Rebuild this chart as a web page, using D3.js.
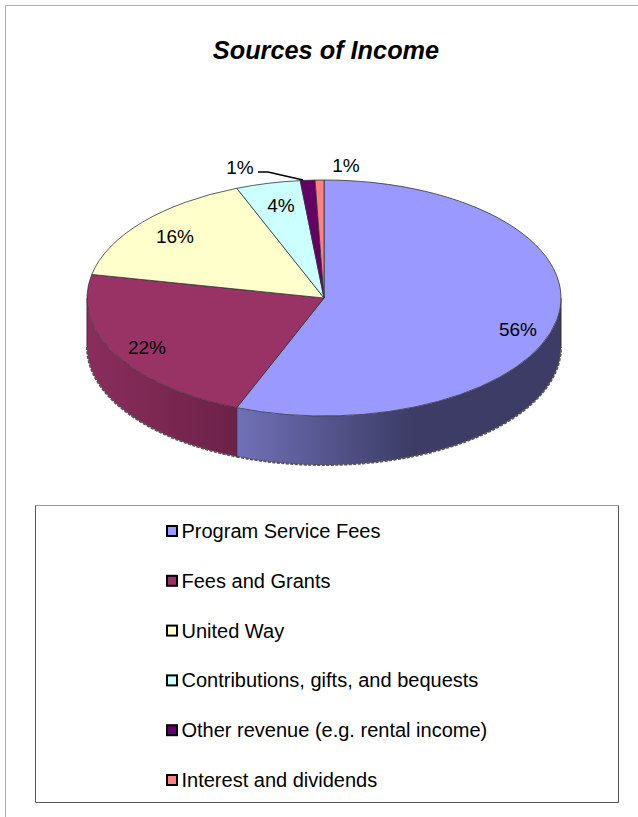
<!DOCTYPE html>
<html>
<head>
<meta charset="utf-8">
<script src="https://cdn.jsdelivr.net/npm/d3@7"></script>
<style>
html,body{margin:0;padding:0;background:#fff;}
svg{display:block;}
text{font-family:"Liberation Sans",Arial,sans-serif;fill:#000;}
</style>
</head>
<body>
<div id="chart"></div>
<script>
var categories = ["Program Service Fees","Fees and Grants","United Way","Contributions, gifts, and bequests","Other revenue (e.g. rental income)","Interest and dividends"];
var values = [56.0,22.2,15.8,4.4,1.0,0.6];
var colors = ["#9999ff","#993366","#ffffcc","#ccffff","#660066","#ff8080"];
var sideStart = ["#7070b8","#8a2d5c"];
var sideEnd = ["#3c3c66","#6c2248"];

var width = 638, height = 817;
var cx = 324, cy = 298, rx = 237, ry = 118, depth = 49;

var svg = d3.select("#chart").append("svg")
    .attr("width",width)
    .attr("height",height);
var defs = svg.append("defs");

// outer frame, only top and left show
svg.append("line").attr("x1",5).attr("y1",5.5).attr("x2",width).attr("y2",5.5).attr("stroke","#aaa");
svg.append("line").attr("x1",5.5).attr("y1",5).attr("x2",5.5).attr("y2",height).attr("stroke","#aaa");

svg.append("text")
    .attr("x",326)
    .attr("y",59)
    .attr("text-anchor","middle")
    .attr("font-size",25.3)
    .attr("font-weight","bold")
    .attr("font-style","italic")
    .text("Sources of Income");

var pie = d3.pie().sort(null).value(function(d){ return d; });
var arcs = pie(values);

// the ellipse is a plain d3.arc squashed in y
var arc = d3.arc().innerRadius(0).outerRadius(rx);
function px(a){ return cx + rx*Math.sin(a); }
function py(a){ return cy - ry*Math.cos(a); }

// side wall, only the part of each slice facing front
var wall = svg.append("g").attr("class","wall");
var lineFn = d3.line().x(function(d){ return d[0]; }).y(function(d){ return d[1]; });
arcs.forEach(function(d,i){
    var a0 = Math.max(d.startAngle,Math.PI/2);
    var a1 = Math.min(d.endAngle,Math.PI*1.5);
    if(a0 >= a1) return;
    var steps = d3.range(a0,a1,0.01).concat([a1]);
    var top = steps.map(function(a){ return [px(a),py(a)]; });
    var bottom = steps.slice().reverse().map(function(a){ return [px(a),py(a)+depth]; });
    var id = "side"+i;
    var xs = top.map(function(p){ return p[0]; });
    var grad = defs.append("linearGradient").attr("id",id)
        .attr("gradientUnits","userSpaceOnUse")
        .attr("x1",d3.min(xs)).attr("x2",i==0 ? d3.min(xs)+175 : d3.max(xs))
        .attr("y1",0).attr("y2",0);
    grad.append("stop").attr("offset",0).attr("stop-color",sideStart[i]);
    grad.append("stop").attr("offset",1).attr("stop-color",sideEnd[i]);
    wall.append("path")
        .attr("d",lineFn(top.concat(bottom))+"Z")
        .attr("fill","url(#"+id+")");
    // rough dark shadow on the lower rim
    wall.append("path")
        .attr("d",lineFn(bottom))
        .attr("fill","none")
        .attr("stroke","#555")
        .attr("stroke-width",2)
        .attr("stroke-dasharray","3 1.5");
});

// edges of the wall
wall.append("line").attr("x1",cx+rx).attr("y1",cy).attr("x2",cx+rx).attr("y2",cy+depth).attr("stroke","#333");
wall.append("line").attr("x1",cx-rx).attr("y1",cy).attr("x2",cx-rx).attr("y2",cy+depth).attr("stroke","#5a1c3c");
wall.append("line")
    .attr("x1",px(arcs[0].endAngle)).attr("y1",py(arcs[0].endAngle))
    .attr("x2",px(arcs[0].endAngle)).attr("y2",py(arcs[0].endAngle)+depth)
    .attr("stroke","#4a1a34");

svg.append("g")
    .attr("transform","translate("+cx+","+cy+") scale(1,"+(ry/rx)+")")
    .selectAll("path")
    .data(arcs)
    .enter().append("path")
    .attr("d",arc)
    .attr("fill",function(d,i){ return colors[i]; })
    .attr("stroke","#333")
    .attr("stroke-width",0.8)
    .attr("vector-effect","non-scaling-stroke");

// data labels, positions
var labelPos = [[518,336],[147,354],[175,243],[281,212],[240,174],[346,172]];
svg.append("g").selectAll("text")
    .data(arcs)
    .enter().append("text")
    .attr("x",function(d,i){ return labelPos[i][0]; })
    .attr("y",function(d,i){ return labelPos[i][1]; })
    .attr("text-anchor","middle")
    .attr("font-size",19)
    .text(function(d){ return Math.round(d.value)+"%"; });

// leader line for the small slice
var leader = [[258,172],[268,172],[303,180]];
svg.append("path")
    .attr("d",lineFn(leader))
    .attr("fill","none")
    .attr("stroke","#000")
    .attr("stroke-width",1.5);

// legend
var legendX = 35.5, legendY = 505.5, legendW = 583, legendH = 297;
svg.append("line").attr("x1",legendX).attr("y1",legendY).attr("x2",legendX+legendW).attr("y2",legendY).attr("stroke","#999");
svg.append("line").attr("x1",legendX).attr("y1",legendY).attr("x2",legendX).attr("y2",legendY+legendH).attr("stroke","#555");
svg.append("line").attr("x1",legendX+legendW).attr("y1",legendY).attr("x2",legendX+legendW).attr("y2",legendY+legendH).attr("stroke","#555");
svg.append("line").attr("x1",legendX).attr("y1",legendY+legendH).attr("x2",legendX+legendW).attr("y2",legendY+legendH).attr("stroke","#555");

var rowY = d3.scalePoint().domain(categories).range([531,780]);
var rows = svg.append("g").selectAll("g")
    .data(categories)
    .enter().append("g")
    .attr("transform",function(d){ return "translate(0,"+rowY(d)+")"; });
rows.append("rect")
    .attr("x",167).attr("y",-5)
    .attr("width",10).attr("height",10)
    .attr("fill",function(d,i){ return colors[i]; })
    .attr("stroke","#000")
    .attr("stroke-width",2);
rows.append("text")
    .attr("x",181.5)
    .attr("y",7)
    .attr("font-size",20)
    .text(function(d){ return d; });
</script>
</body>
</html>
